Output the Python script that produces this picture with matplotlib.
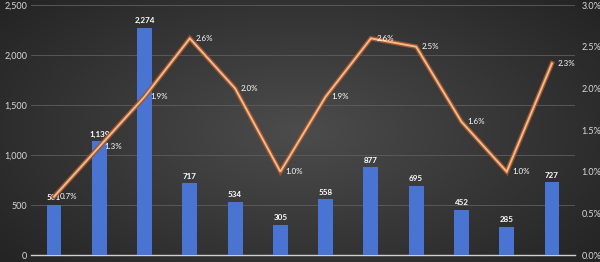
import matplotlib
matplotlib.use("Agg")
import matplotlib.pyplot as plt
import numpy as np

categories = ["1", "2", "3", "4", "5", "6", "7", "8", "9", "10", "11", "12"]
counts = [501, 1139, 2274, 717, 534, 305, 558, 877, 695, 452, 285, 727]
pct = [0.7, 1.3, 1.9, 2.6, 2.0, 1.0, 1.9, 2.6, 2.5, 1.6, 1.0, 2.3]
left_ticks = [0, 500, 1000, 1500, 2000, 2500]
right_ticks = [0.0, 0.5, 1.0, 1.5, 2.0, 2.5, 3.0]

plt.rcParams['font.family'] = ['Lato', 'DejaVu Sans']

fig = plt.figure(figsize=(6, 2.62), dpi=100)

# background radial gradient
bg = fig.add_axes([0, 0, 1, 1], zorder=-10)
yy, xx = np.mgrid[-1:1:262j, -1:1:600j]
r = np.sqrt((xx * 0.9) ** 2 + (yy * 0.75) ** 2)
r = np.clip(r / 1.15, 0, 1)
c0 = np.array([0x4c, 0x4c, 0x4c]) / 255
c1 = np.array([0x24, 0x24, 0x24]) / 255
img = c0[None, None, :] * (1 - r[..., None]) + c1[None, None, :] * r[..., None]
bg.imshow(img, aspect='auto', extent=[0, 1, 0, 1])
bg.axis('off')

ax = fig.add_axes([0.0523, 0.0267, 0.9054, 0.954])
ax.patch.set_alpha(0)
x = np.arange(len(categories))
ax.bar(x, counts, width=0.33, color='#4a74d2', zorder=3)
ax.set_xlim(-0.5, len(categories) - 0.5)
ax.set_ylim(0, 2500)
ax.set_yticks(left_ticks)
ax.set_yticklabels([f"{v:,}" for v in left_ticks])
ax.set_xticks([])
ax.grid(axis='y', color='#5e5e5e', linewidth=0.6, zorder=0)
for s in ['top', 'right', 'left']:
    ax.spines[s].set_visible(False)
ax.spines['bottom'].set_color('#d0d0d0')
ax.spines['bottom'].set_linewidth(1.0)
ax.tick_params(axis='y', length=0, pad=3, labelsize=6.5, labelcolor='#d9d9d9')

for xi, v in zip(x, counts):
    ax.text(xi, v + 35, f"{v:,}", ha='center', va='bottom', fontsize=5.8,
            color='white', fontweight='bold', zorder=5)

ax2 = ax.twinx()
ax2.set_ylim(0, 3.0)
ax2.set_yticks(right_ticks)
ax2.set_yticklabels([f"{v:.1f}%" for v in right_ticks])
for s in ax2.spines.values():
    s.set_visible(False)
ax2.tick_params(axis='y', length=0, pad=5, labelsize=6.5, labelcolor='#d9d9d9')
ax2.plot(x, pct, color='#9a5530', linewidth=3.4, zorder=4, solid_joinstyle='miter')
ax2.plot(x, pct, color='#f4b98a', linewidth=1.4, zorder=5, solid_joinstyle='miter')
for xi, v in zip(x, pct):
    ax2.text(xi + 0.12, v, f"{v:.1f}%", ha='left', va='center', fontsize=5.8,
             color='white', zorder=6)

fig.savefig("out.png", dpi=100)
